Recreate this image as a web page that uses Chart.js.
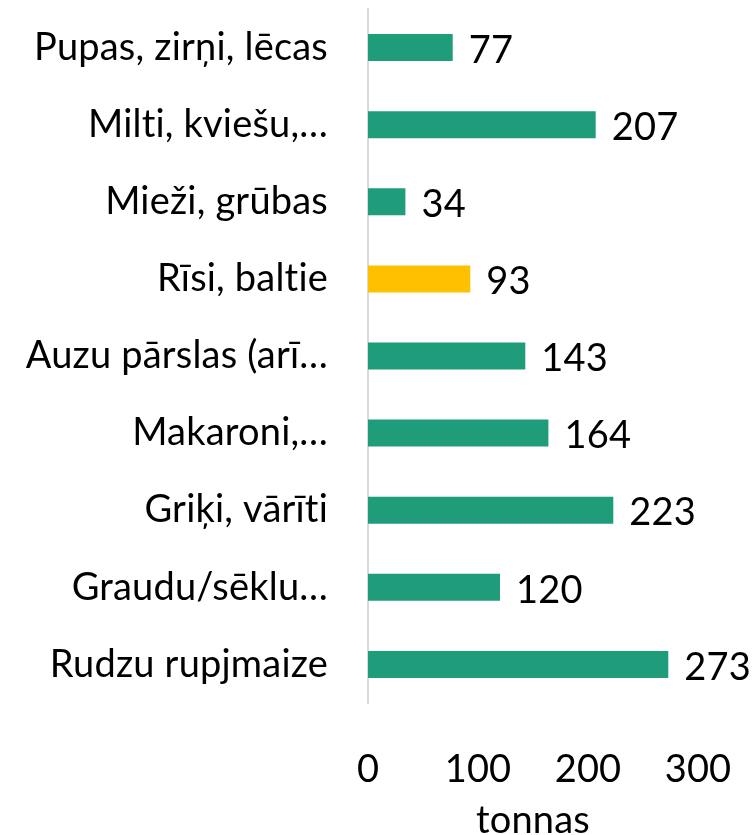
<!DOCTYPE html>
<html>
<head>
<meta charset="utf-8">
<script src="https://cdn.jsdelivr.net/npm/chart.js@4"></script>
<style>
  html, body { margin: 0; padding: 0; background: #fff; }
  #wrap { width: 756px; height: 835px; }
</style>
</head>
<body>
<div id="wrap"><canvas id="c" width="756" height="835"></canvas></div>
<script>
// dati
const kategorijas = [
  "Pupas, zirņi, lēcas",
  "Milti, kviešu,…",
  "Mieži, grūbas",
  "Rīsi, baltie",
  "Auzu pārslas (arī…",
  "Makaroni,…",
  "Griķi, vārīti",
  "Graudu/sēklu…",
  "Rudzu rupjmaize"
];
const vertibas = [77, 207, 34, 93, 143, 164, 223, 120, 273];
const krasas = ["#1f9c7a", "#1f9c7a", "#1f9c7a", "#ffc000", "#1f9c7a", "#1f9c7a", "#1f9c7a", "#1f9c7a", "#1f9c7a"];
const asuTicks = [0, 100, 200, 300];

const FONTS = "Lato, 'Open Sans', sans-serif";
const IZMERS = 38;

// bez ligatūrām (ti, fi)
const bezLigaturam = {
  id: "bezLigaturam",
  beforeDraw(chart) { chart.ctx.letterSpacing = "0.2px"; }
};

// vērtības pie stabiņu galiem
const vertibuEtiketes = {
  id: "vertibuEtiketes",
  afterDatasetsDraw(chart) {
    const ctx = chart.ctx;
    const meta = chart.getDatasetMeta(0);
    ctx.save();
    ctx.font = IZMERS + "px " + FONTS;
    ctx.fillStyle = "#000";
    ctx.textAlign = "left";
    ctx.textBaseline = "middle";
    meta.data.forEach((bar, i) => {
      ctx.fillText(String(vertibas[i]), bar.x + 16, bar.y + 3);
    });
    ctx.restore();
  }
};

new Chart(document.getElementById("c"), {
  type: "bar",
  data: {
    labels: kategorijas,
    datasets: [{ data: vertibas, backgroundColor: krasas, barPercentage: 0.5, categoryPercentage: 0.7 }]
  },
  options: {
    indexAxis: "y",
    responsive: false,
    animation: false,
    layout: { padding: { top: 9, right: 58, left: 0, bottom: 0 } },
    plugins: { legend: { display: false }, tooltip: { enabled: false } },
    scales: {
      x: {
        min: 0, max: 300,
        afterBuildTicks: ax => { ax.ticks = asuTicks.map(v => ({ value: v })); },
        afterFit: ax => { ax.height = 132; ax.paddingLeft = 0; ax.paddingRight = 0; },
        grid: { display: false, drawTicks: false },
        border: { display: false },
        ticks: { color: "#000", font: { family: FONTS, size: IZMERS }, padding: 44, maxRotation: 0 },
        title: { display: true, text: "tonnas", color: "#000", font: { family: FONTS, size: IZMERS }, padding: { top: 0, bottom: -9 } }
      },
      y: {
        afterFit: ax => { ax.width = 368; ax.paddingTop = 0; ax.paddingBottom = 0; },
        grid: { display: false, drawTicks: false },
        border: { display: true, color: "#d9d9d9", width: 2 },
        ticks: { color: "#000", font: { family: FONTS, size: IZMERS }, padding: 40, autoSkip: false }
      }
    }
  },
  plugins: [bezLigaturam, vertibuEtiketes]
});
</script>
</body>
</html>
